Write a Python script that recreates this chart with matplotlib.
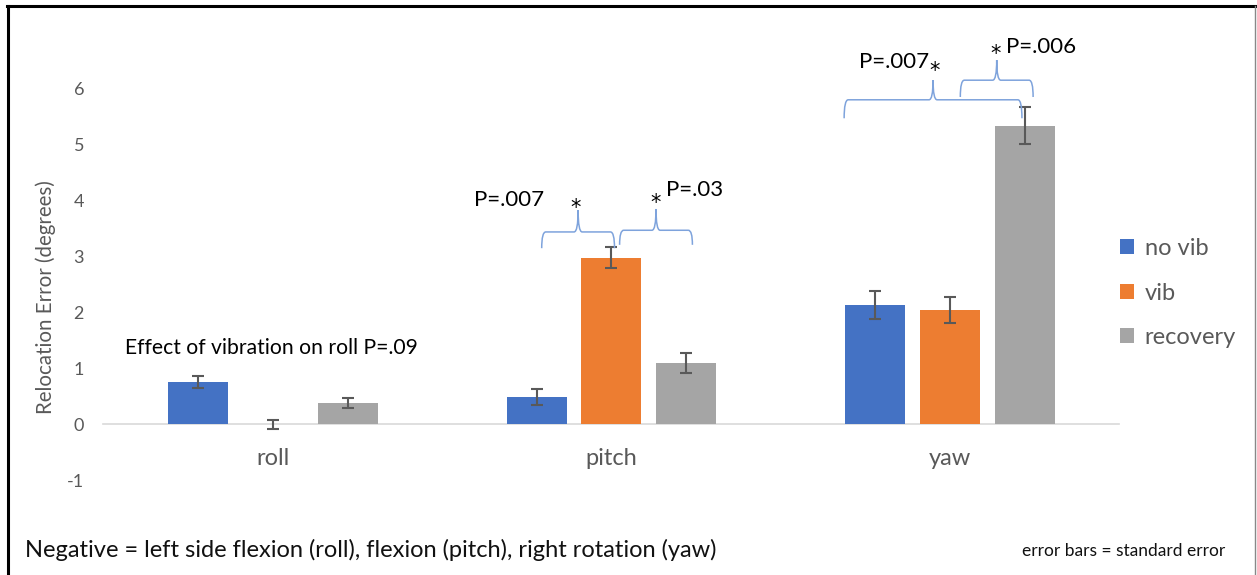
import numpy as np
import matplotlib.pyplot as plt
from matplotlib.path import Path
from matplotlib.patches import PathPatch
from matplotlib.lines import Line2D

plt.rcParams['font.family'] = ['Lato', 'DejaVu Sans']

categorias = ["roll", "pitch", "yaw"]
series = ["no vib", "vib", "recovery"]
no_vib = [0.75, 0.48, 2.13]
vib = [-0.005, 2.97, 2.04]
recovery = [0.37, 1.09, 5.33]
err_no_vib = [0.10, 0.14, 0.25]
err_vib = [0.08, 0.19, 0.23]
err_recovery = [0.09, 0.18, 0.33]
colores = ["#4472C4", "#ED7D31", "#A5A5A5"]

gris = "#595959"
azul_llave = "#7EA3DC"

fig = plt.figure(figsize=(12.57, 5.75), dpi=100)
ax = fig.add_axes([0.0823, 0.1652, 0.8083, 0.6817])

x = np.arange(len(categorias))
ancho = 0.177
paso = 0.221
valores = [no_vib, vib, recovery]
errores = [err_no_vib, err_vib, err_recovery]
for i, (vals, errs) in enumerate(zip(valores, errores)):
    ax.bar(x + (i - 1) * paso, vals, ancho, color=colores[i], label=series[i],
           yerr=errs, error_kw=dict(ecolor=gris, elinewidth=1.5, capsize=4, capthick=1.5),
           zorder=3)

ax.set_xlim(-0.5, 2.5)
ax.set_ylim(-1, 6)
ax.set_yticks(range(-1, 7))
ax.set_yticklabels([str(v) for v in range(-1, 7)])
ax.set_xticks(x)
ax.set_xticklabels(categorias)
for s in ["top", "right", "left"]:
    ax.spines[s].set_visible(False)
ax.spines["bottom"].set_position(("data", 0))
ax.spines["bottom"].set_color("#D9D9D9")
ax.spines["bottom"].set_linewidth(1.2)
ax.tick_params(axis="x", length=0, pad=17, labelsize=17, labelcolor=gris)
ax.tick_params(axis="y", length=0, pad=14, labelsize=13, labelcolor=gris)
ax.set_ylabel("Relocation Error (degrees)", fontsize=14.8, color=gris)
ax.yaxis.set_label_coords(-0.047, 0.467)


def llave(x0, x1, y_fin, y_linea, y_pico, xm=None):
    # llave horizontal con el pico hacia arriba
    if xm is None:
        xm = (x0 + x1) / 2
    r = 0.012
    pts = [(x0, y_fin), (x0, y_linea), (x0 + r, y_linea),
           (xm - r, y_linea), (xm, y_linea), (xm, y_pico),
           (xm, y_linea), (xm + r, y_linea),
           (x1 - r, y_linea), (x1, y_linea), (x1, y_fin)]
    codes = [Path.MOVETO, Path.CURVE3, Path.CURVE3,
             Path.LINETO, Path.CURVE3, Path.CURVE3,
             Path.CURVE3, Path.CURVE3,
             Path.LINETO, Path.CURVE3, Path.CURVE3]
    ax.add_patch(PathPatch(Path(pts, codes), fill=False, edgecolor=azul_llave,
                           lw=1.1, clip_on=False, zorder=4))


llave(0.794, 1.009, 3.14, 3.43, 3.82)
llave(1.024, 1.239, 3.20, 3.46, 3.84)
llave(1.687, 2.212, 5.46, 5.79, 6.14)
llave(2.030, 2.245, 5.84, 6.14, 6.50)

txt = dict(fontsize=16, color="black", ha="center", va="center", clip_on=False)
ast = dict(fontsize=15, color="black", ha="center", va="center", clip_on=False,
           family="DejaVu Sans")
ax.text(0.699, 4.0, "P=.007", **txt)
ax.text(0.894, 3.85, "*", **ast)
ax.text(1.130, 3.95, "*", **ast)
ax.text(1.245, 4.18, "P=.03", **txt)
ax.text(1.835, 6.46, "P=.007", **txt)
ax.text(1.953, 6.30, "*", **ast)
ax.text(2.133, 6.60, "*", **ast)
ax.text(2.165, 6.73, "P=.006", ha="left", va="center", fontsize=16, clip_on=False)
ax.text(-0.437, 1.36, "Effect of vibration on roll P=.09", ha="left", va="center",
        fontsize=15.2, color="black")

leg = ax.legend(loc="upper left", bbox_to_anchor=(0.874, 0.623), bbox_transform=fig.transFigure,
                frameon=False, fontsize=17, labelspacing=1.0, handlelength=0.6,
                handleheight=0.6, handletextpad=0.45)
for t in leg.get_texts():
    t.set_color(gris)

fig.text(0.02, 0.043, "Negative = left side flexion (roll), flexion (pitch), right rotation (yaw)",
         fontsize=17, color="#111111", va="center")
fig.text(0.975, 0.041, "error bars = standard error", fontsize=12.5, color="#111111",
         ha="right", va="center")

# marco de la figura
fig.add_artist(Line2D([0.0062, 0.0062], [0.0, 0.99], transform=fig.transFigure, color="black", lw=2.2))
fig.add_artist(Line2D([0.0055, 1.0], [0.9896, 0.9896], transform=fig.transFigure, color="black", lw=2.2))
fig.add_artist(Line2D([0.9985, 0.9985], [0.0, 0.99], transform=fig.transFigure, color="#888888", lw=1))

fig.savefig("out.png", dpi=100)
